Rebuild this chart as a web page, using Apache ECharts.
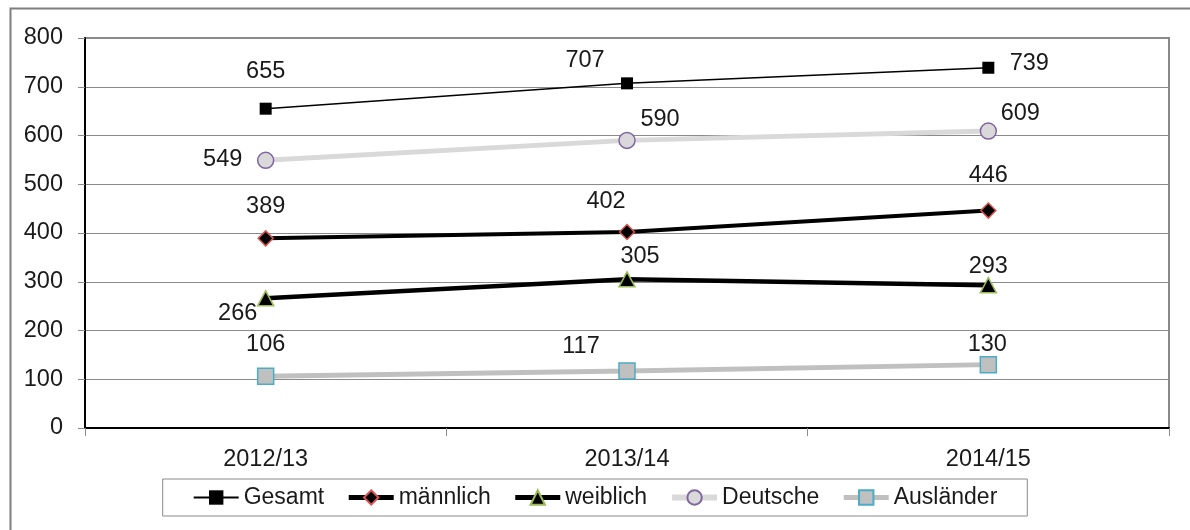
<!DOCTYPE html>
<html>
<head>
<meta charset="utf-8">
<script src="https://cdn.jsdelivr.net/npm/echarts@6/dist/echarts.min.js"></script>
<style>
  html, body { margin: 0; padding: 0; background: #fff; }
  #chart { width: 1190px; height: 530px; }
</style>
</head>
<body>
<div id="chart"></div>
<script>
const years = ['2012/13', '2013/14', '2014/15'];
const gesamt = [655, 707, 739];
const maennlich = [389, 402, 446];
const weiblich = [266, 305, 293];
const deutsche = [549, 590, 609];
const auslaender = [106, 117, 130];
const yTicks = [0, 100, 200, 300, 400, 500, 600, 700, 800];
const names = ['Gesamt', 'männlich', 'weiblich', 'Deutsche', 'Ausländer'];

const FONT = '"Liberation Sans", Arial, sans-serif';

// label offsets (px) per point, relative to the marker centre
const withLabels = (values, offsets) => values.map((v, i) => ({
  value: v,
  label: { offset: offsets[i] }
}));

const chart = echarts.init(document.getElementById('chart'), null, { renderer: 'canvas' });

const labelBase = {
  show: true, position: 'inside', align: 'center', verticalAlign: 'middle',
  color: '#1a1a1a', fontSize: 23.5, fontFamily: FONT
};

const legendLineWidths = [2, 5, 5, 6, 5];

chart.setOption({
  animation: false,
  graphic: [{
    type: 'rect', left: 8, top: 6, z: -10,
    shape: { width: 1300, height: 700 },
    style: { fill: 'none', stroke: '#7f7f7f', lineWidth: 2 }
  }],
  grid: {
    left: 85, right: 21, top: 38, bottom: 102,
    outerBoundsMode: 'none',
    show: true, borderColor: '#8a8a8a', borderWidth: 2
  },
  legend: {
    left: 'center', top: 479,
    borderColor: '#8a8a8a', borderWidth: 1,
    padding: [7, 30, 7, 30],
    itemWidth: 45, itemHeight: 18, itemGap: 22,
    textStyle: { fontSize: 23, fontFamily: FONT, color: '#1a1a1a' },
    data: names.map((n, i) => ({ name: n, lineStyle: { width: legendLineWidths[i] } }))
  },
  xAxis: {
    type: 'category', data: years, boundaryGap: true,
    axisLine: { lineStyle: { color: '#000', width: 2 } },
    axisTick: { show: true, length: 8, lineStyle: { color: '#8a8a8a', width: 1 } },
    axisLabel: { margin: 20, fontSize: 23.5, fontFamily: FONT, color: '#1a1a1a' },
    splitLine: { show: false }
  },
  yAxis: {
    type: 'value', min: yTicks[0], max: yTicks[yTicks.length - 1], interval: 100,
    axisLine: { show: true, lineStyle: { color: '#000', width: 2 } },
    axisTick: { show: true, length: 7, lineStyle: { color: '#8a8a8a' } },
    axisLabel: { margin: 22, fontSize: 23.5, fontFamily: FONT, color: '#1a1a1a' },
    splitLine: { lineStyle: { color: '#8a8a8a', width: 1 } }
  },
  series: [
    {
      name: 'Gesamt', type: 'line',
      data: withLabels(gesamt, [[0, -37], [-42, -23], [41, -4]]),
      symbol: 'rect', symbolSize: 12,
      lineStyle: { color: '#000', width: 1.5 },
      itemStyle: { color: '#000', borderColor: '#000', borderWidth: 0 },
      label: labelBase, z: 5
    },
    {
      name: 'männlich', type: 'line',
      data: withLabels(maennlich, [[0, -32], [-21, -31], [0, -35]]),
      symbol: 'diamond', symbolSize: 15,
      lineStyle: { color: '#000', width: 4 },
      itemStyle: { color: '#000', borderColor: '#d9534f', borderWidth: 1.5 },
      label: labelBase, z: 4
    },
    {
      name: 'weiblich', type: 'line',
      data: withLabels(weiblich, [[-28, 15], [13, -23], [0, -19]]),
      symbol: 'triangle', symbolSize: [16, 15],
      lineStyle: { color: '#000', width: 4.5 },
      itemStyle: { color: '#000', borderColor: '#9bbb59', borderWidth: 1.5 },
      label: labelBase, z: 4
    },
    {
      name: 'Deutsche', type: 'line',
      data: withLabels(deutsche, [[-43, -1], [33, -21], [32, -18]]),
      symbol: 'circle', symbolSize: 16,
      lineStyle: { color: '#d9d9d9', width: 5 },
      itemStyle: { color: '#d9d9d9', borderColor: '#8064a2', borderWidth: 1.5 },
      label: labelBase, z: 3
    },
    {
      name: 'Ausländer', type: 'line',
      data: withLabels(auslaender, [[0, -32], [-46, -24], [-1, -20]]),
      symbol: 'rect', symbolSize: 16,
      lineStyle: { color: '#c0c0c0', width: 5 },
      itemStyle: { color: '#c0c0c0', borderColor: '#4bacc6', borderWidth: 1.5 },
      label: labelBase, z: 3
    }
  ]
});
</script>
</body>
</html>
